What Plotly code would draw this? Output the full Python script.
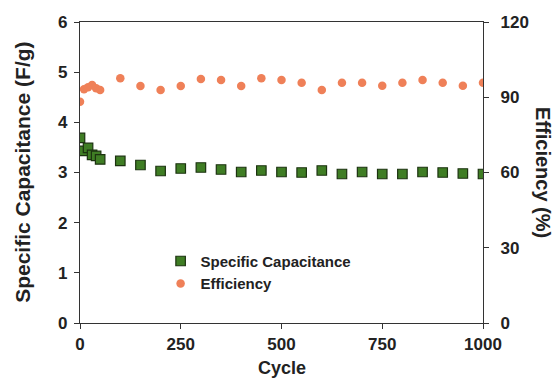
import plotly.graph_objects as go

cycles = [0, 10, 20, 30, 40, 50, 100, 150, 200, 250, 300, 350, 400, 450, 500,
          550, 600, 650, 700, 750, 800, 850, 900, 950, 1000]
capacitance = [3.69, 3.43, 3.49, 3.35, 3.33, 3.26, 3.23, 3.15, 3.03, 3.08, 3.10, 3.06, 3.01,
               3.04, 3.01, 3.00, 3.04, 2.97, 3.01, 2.97, 2.97, 3.01, 3.00, 2.98, 2.97]
efficiency = [88.2, 93.2, 94.0, 94.9, 93.6, 92.9, 97.6, 94.5, 92.9, 94.5, 97.3, 96.9, 94.5,
              97.6, 96.9, 95.8, 92.9, 95.8, 95.8, 94.6, 95.8, 96.9, 95.8, 94.6, 95.8]

FONT = "Liberation Sans, Arial, sans-serif"
TXT = "#222222"

fig = go.Figure()
fig.add_trace(go.Scatter(
    x=cycles, y=capacitance, mode="markers", name="Specific Capacitance",
    marker=dict(symbol="square", size=9.5, color="#3f7d24",
                line=dict(color="#1c3310", width=1.2)),
    yaxis="y"))
fig.add_trace(go.Scatter(
    x=cycles, y=efficiency, mode="markers", name="Efficiency",
    marker=dict(symbol="circle", size=8.5, color="#ef8058", line=dict(width=0)),
    yaxis="y2"))

axis_common = dict(showgrid=False, zeroline=False, showline=True, linecolor="#333333",
                   linewidth=1.2, ticks="outside", ticklen=5, tickcolor="#333333",
                   automargin=False,
                   tickfont=dict(family=FONT, size=17, color=TXT, weight="bold"))

title_font = dict(family=FONT, size=21, color=TXT, weight="bold")

fig.update_layout(
    width=555, height=378,
    margin=dict(l=80, r=72, t=22, b=55),
    paper_bgcolor="white", plot_bgcolor="white",
    showlegend=True,
    legend=dict(x=0.2, y=0.26, xanchor="left", yanchor="top",
                bgcolor="rgba(0,0,0,0)", itemwidth=30, tracegroupgap=0,
                font=dict(family=FONT, size=15, color=TXT, weight="bold")),
    xaxis=dict(range=[0, 1000], tickvals=[0, 250, 500, 750, 1000], mirror=True,
               ticklabelstandoff=0, **axis_common),
    yaxis=dict(range=[0, 6], dtick=1, ticklabelstandoff=3, **axis_common),
    yaxis2=dict(range=[0, 120], dtick=30, overlaying="y", side="right",
                ticklabelstandoff=8, **axis_common),
    annotations=[
        dict(text="Cycle", xref="paper", yref="paper", x=0.5, y=-0.148,
             xanchor="center", yanchor="middle", showarrow=False,
             font=dict(family=FONT, size=18, color=TXT, weight="bold")),
        dict(text="Specific Capacitance (F/g)", xref="paper", yref="paper",
             x=-0.143, y=0.5, xanchor="center", yanchor="middle", textangle=-90,
             showarrow=False, font=title_font),
        dict(text="Efficiency (%)", xref="paper", yref="paper",
             x=1.15, y=0.50, xanchor="center", yanchor="middle", textangle=90,
             showarrow=False, font=dict(family=FONT, size=20, color=TXT, weight="bold")),
    ],
)

fig.write_html("out.html")
